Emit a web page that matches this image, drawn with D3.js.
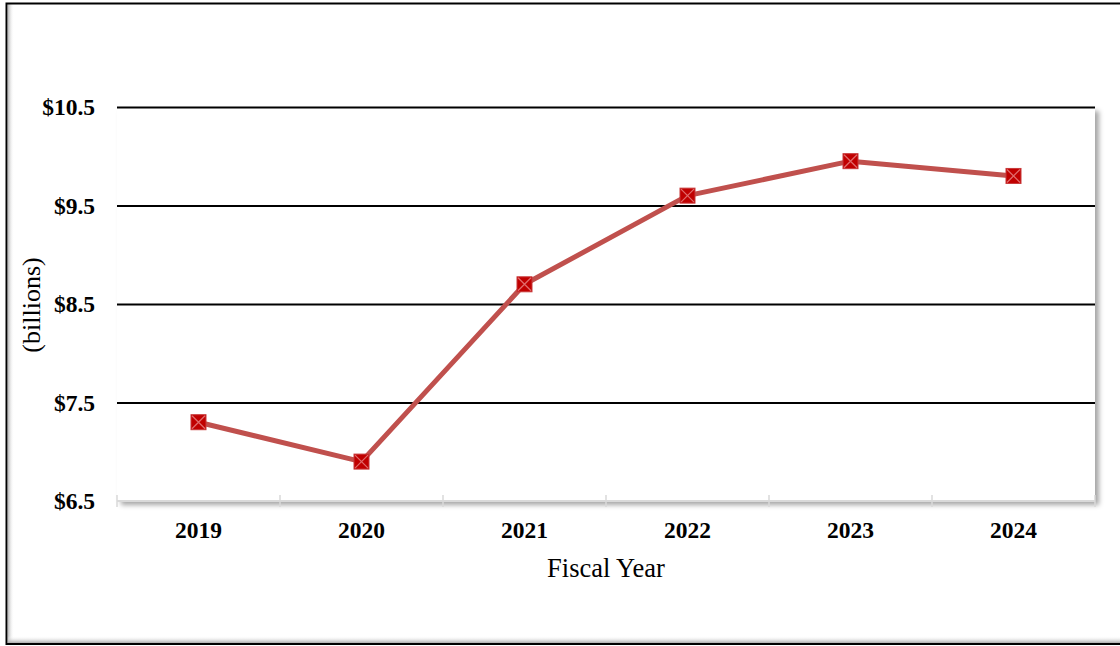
<!DOCTYPE html>
<html><head><meta charset="utf-8">
<script src="https://cdn.jsdelivr.net/npm/d3@7"></script>
<style>html,body{margin:0;padding:0;background:#fff;}svg{display:block;}</style>
</head><body>
<svg id="chart" width="1120" height="646"></svg>
<script>
const years = ["2019","2020","2021","2022","2023","2024"];
const values = [7.3, 6.9, 8.7, 9.6, 9.95, 9.8];
const yTicks = [6.5, 7.5, 8.5, 9.5, 10.5];
const yTickLabels = ["$6.5","$7.5","$8.5","$9.5","$10.5"];

(function(){
const FONT = "'Liberation Serif', 'Times New Roman', serif";
const svg = d3.select("#chart");
const defs = svg.append("defs");
const f = defs.append("filter").attr("id","sh").attr("x","-5%").attr("y","-5%").attr("width","115%").attr("height","120%");
f.append("feDropShadow").attr("dx",4).attr("dy",4).attr("stdDeviation",2.5).attr("flood-color","#000").attr("flood-opacity",0.35);
const gL = defs.append("linearGradient").attr("id","gl").attr("x1",0).attr("x2",1).attr("y1",0).attr("y2",0);
gL.append("stop").attr("offset",0).attr("stop-color","#bbb");
gL.append("stop").attr("offset",1).attr("stop-color","#fff").attr("stop-opacity",0);
const gB = defs.append("linearGradient").attr("id","gb").attr("x1",0).attr("x2",0).attr("y1",1).attr("y2",0);
gB.append("stop").attr("offset",0).attr("stop-color","#aaa");
gB.append("stop").attr("offset",1).attr("stop-color","#fff").attr("stop-opacity",0);

// outer frame
svg.append("rect").attr("x",8).attr("y",4).attr("width",6).attr("height",639).attr("fill","url(#gl)");
svg.append("rect").attr("x",8).attr("y",636).attr("width",1112).attr("height",7).attr("fill","url(#gb)");
svg.append("rect").attr("x",6.5).attr("y",3.5).attr("width",1120).attr("height",640.5)
  .attr("fill","none").attr("stroke","#000").attr("stroke-width",2);

const pL = 117, pR = 1095, pT = 107, pB = 501;
const x = d3.scaleBand().domain(years).range([pL, pR]);
const y = d3.scaleLinear().domain([6.5, 10.5]).range([pB, pT]);

// plot area with shadow
svg.append("rect").attr("x",pL).attr("y",pT).attr("width",pR-pL).attr("height",pB-pT)
  .attr("fill","#fff").attr("filter","url(#sh)");

// gridlines
const yAxis = d3.axisLeft(y).tickValues(yTicks).tickSize(-(pR-pL)).tickFormat((d,i)=>yTickLabels[i]).tickPadding(22);
const gy = svg.append("g").attr("transform",`translate(${pL},0)`).call(yAxis);
gy.select(".domain").remove();
gy.selectAll(".tick line").attr("stroke","#000").attr("stroke-width",2)
  .filter(d=>d===6.5).attr("stroke","none");
gy.selectAll(".tick text").attr("font-family",FONT)
  .attr("font-weight","bold").attr("font-size","23.5px").attr("fill","#000");

// x axis
const xAxis = d3.axisBottom(x).tickSize(0).tickPadding(20);
const gx = svg.append("g").attr("transform",`translate(0,${pB})`).call(xAxis);
gx.select(".domain").attr("stroke","#d9d9d9").attr("stroke-width",2).attr("d",`M${pL},0H${pR}`);
gx.selectAll(".tick text").attr("font-family",FONT)
  .attr("font-weight","bold").attr("font-size","23.5px").attr("fill","#000");
const bounds = years.map(d=>x(d)).concat([pR]);
gx.selectAll(".bt").data(bounds).enter().append("line").attr("class","bt")
  .attr("x1",d=>d).attr("x2",d=>d).attr("y1",-6).attr("y2",6).attr("stroke","#d9d9d9").attr("stroke-width",1.5);

// line
const cx = d=>x(d)+x.bandwidth()/2;
const line = d3.line().x((d,i)=>cx(years[i])).y(d=>y(d));
svg.append("path").datum(values).attr("d",line).attr("fill","none")
  .attr("stroke","#c0504d").attr("stroke-width",5).attr("stroke-linejoin","round");

// markers
const m = svg.selectAll(".mk").data(values).enter().append("g").attr("class","mk")
  .attr("transform",(d,i)=>`translate(${cx(years[i])},${y(d)})`);
const s = 7.5;
m.append("rect").attr("x",-s).attr("y",-s).attr("width",2*s).attr("height",2*s).attr("fill","#c00000").attr("stroke","#c8393a").attr("stroke-width",1);
m.append("path").attr("d",`M${-s+1},${-s+1}L${s-1},${s-1}M${s-1},${-s+1}L${-s+1},${s-1}`).attr("stroke","#e06a6a").attr("stroke-width",1.3);

// axis titles
svg.append("text").attr("x",606).attr("y",577).attr("text-anchor","middle")
  .attr("font-family",FONT).attr("font-size","26.5px").attr("fill","#000")
  .text("Fiscal Year");
svg.append("text").attr("transform",`translate(40,305) rotate(-90)`).attr("text-anchor","middle")
  .attr("font-family",FONT).attr("font-size","26px").attr("fill","#000")
  .text("(billions)");
})();
</script>
</body></html>
